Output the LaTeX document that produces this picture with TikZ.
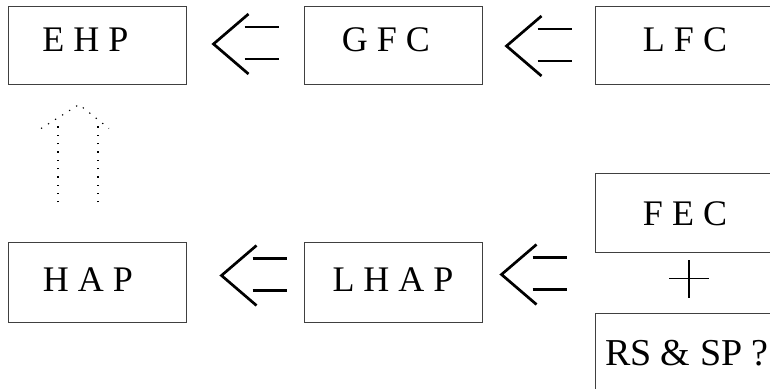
\documentclass[tikz,border=0pt]{standalone}
\usepackage{fontspec}
\setmainfont{Liberation Serif}
\usetikzlibrary{positioning}
\tikzstyle{box} = [draw=black!75, line width=1pt, rectangle, minimum width=178pt, minimum height=79pt, inner sep=0pt, font=\fontsize{36}{40}\selectfont]
\tikzstyle{upper} = [box, minimum height=78pt, text depth=13pt]
\tikzstyle{lower} = [box, text depth=5pt]
\tikzstyle{path} = [line width=2.7pt]
\tikzstyle{hint} = [line width=1.1pt, dash pattern=on 1.3pt off 7pt]
\tikzstyle{cross} = [line width=1.5pt]
\tikzset{back/.pic={
    \draw [path] (35pt,30pt) -- (0pt,0pt) -- (35pt,-30pt);
    \draw [path] (31pt,17pt) -- (65pt,17pt) (31pt,-15pt) -- (65pt,-15pt);
}}

\begin{document}
\begin{tikzpicture}[x=1pt, y=1pt, node distance=117pt]
    \useasboundingbox (0,0) rectangle (770,388);
    \clip (0,0) rectangle (770,388);

    \node (ehp) [upper] at (97,342) {E H P\hspace{23pt}\null};
    \node (gfc) [upper, right=of ehp] {G F C\hspace{14pt}\null};
    \node (lfc) [upper, minimum width=180pt, right=112pt of gfc] {L F C};
    \node (hap) [lower, below=157pt of ehp] {H A P\hspace{18pt}\null};
    \node (lhap) [lower, right=of hap] {L H A P};
    \node (fec) [box, minimum width=180pt, below=88pt of lfc] {F E C};
    \node (rssp) [box, minimum width=0pt, inner xsep=10pt, font=\fontsize{38}{42}\selectfont,
        below right=60pt and 0pt of fec.south west] {RS \& SP ?};
    \coordinate [below=25pt of fec.south, xshift=4pt] (plus);
    \coordinate [above left=40pt and 19pt of hap.north] (lift);

    % Arrows.
    \pic at ([xshift=27pt, yshift=2pt]ehp.east) {back};
    \pic at ([xshift=24pt]gfc.east) {back};
    \pic at ([xshift=35pt, yshift=7pt]hap.east) {back};
    \pic at ([xshift=19pt, yshift=8pt]lhap.east) {back};
    \draw [cross] ([xshift=-20pt]plus) -- ([xshift=20pt]plus) ([yshift=18pt]plus) -- ([yshift=-20pt]plus);
    \draw [hint] ([xshift=-20pt]lift) -- ++(0,76) ([xshift=20pt]lift) -- ++(0,76);
    \draw [hint] ([shift={(-37pt,74pt)}]lift) -- ([shift={(1pt,98pt)}]lift) -- ([shift={(31pt,74pt)}]lift);
\end{tikzpicture}
\end{document}
